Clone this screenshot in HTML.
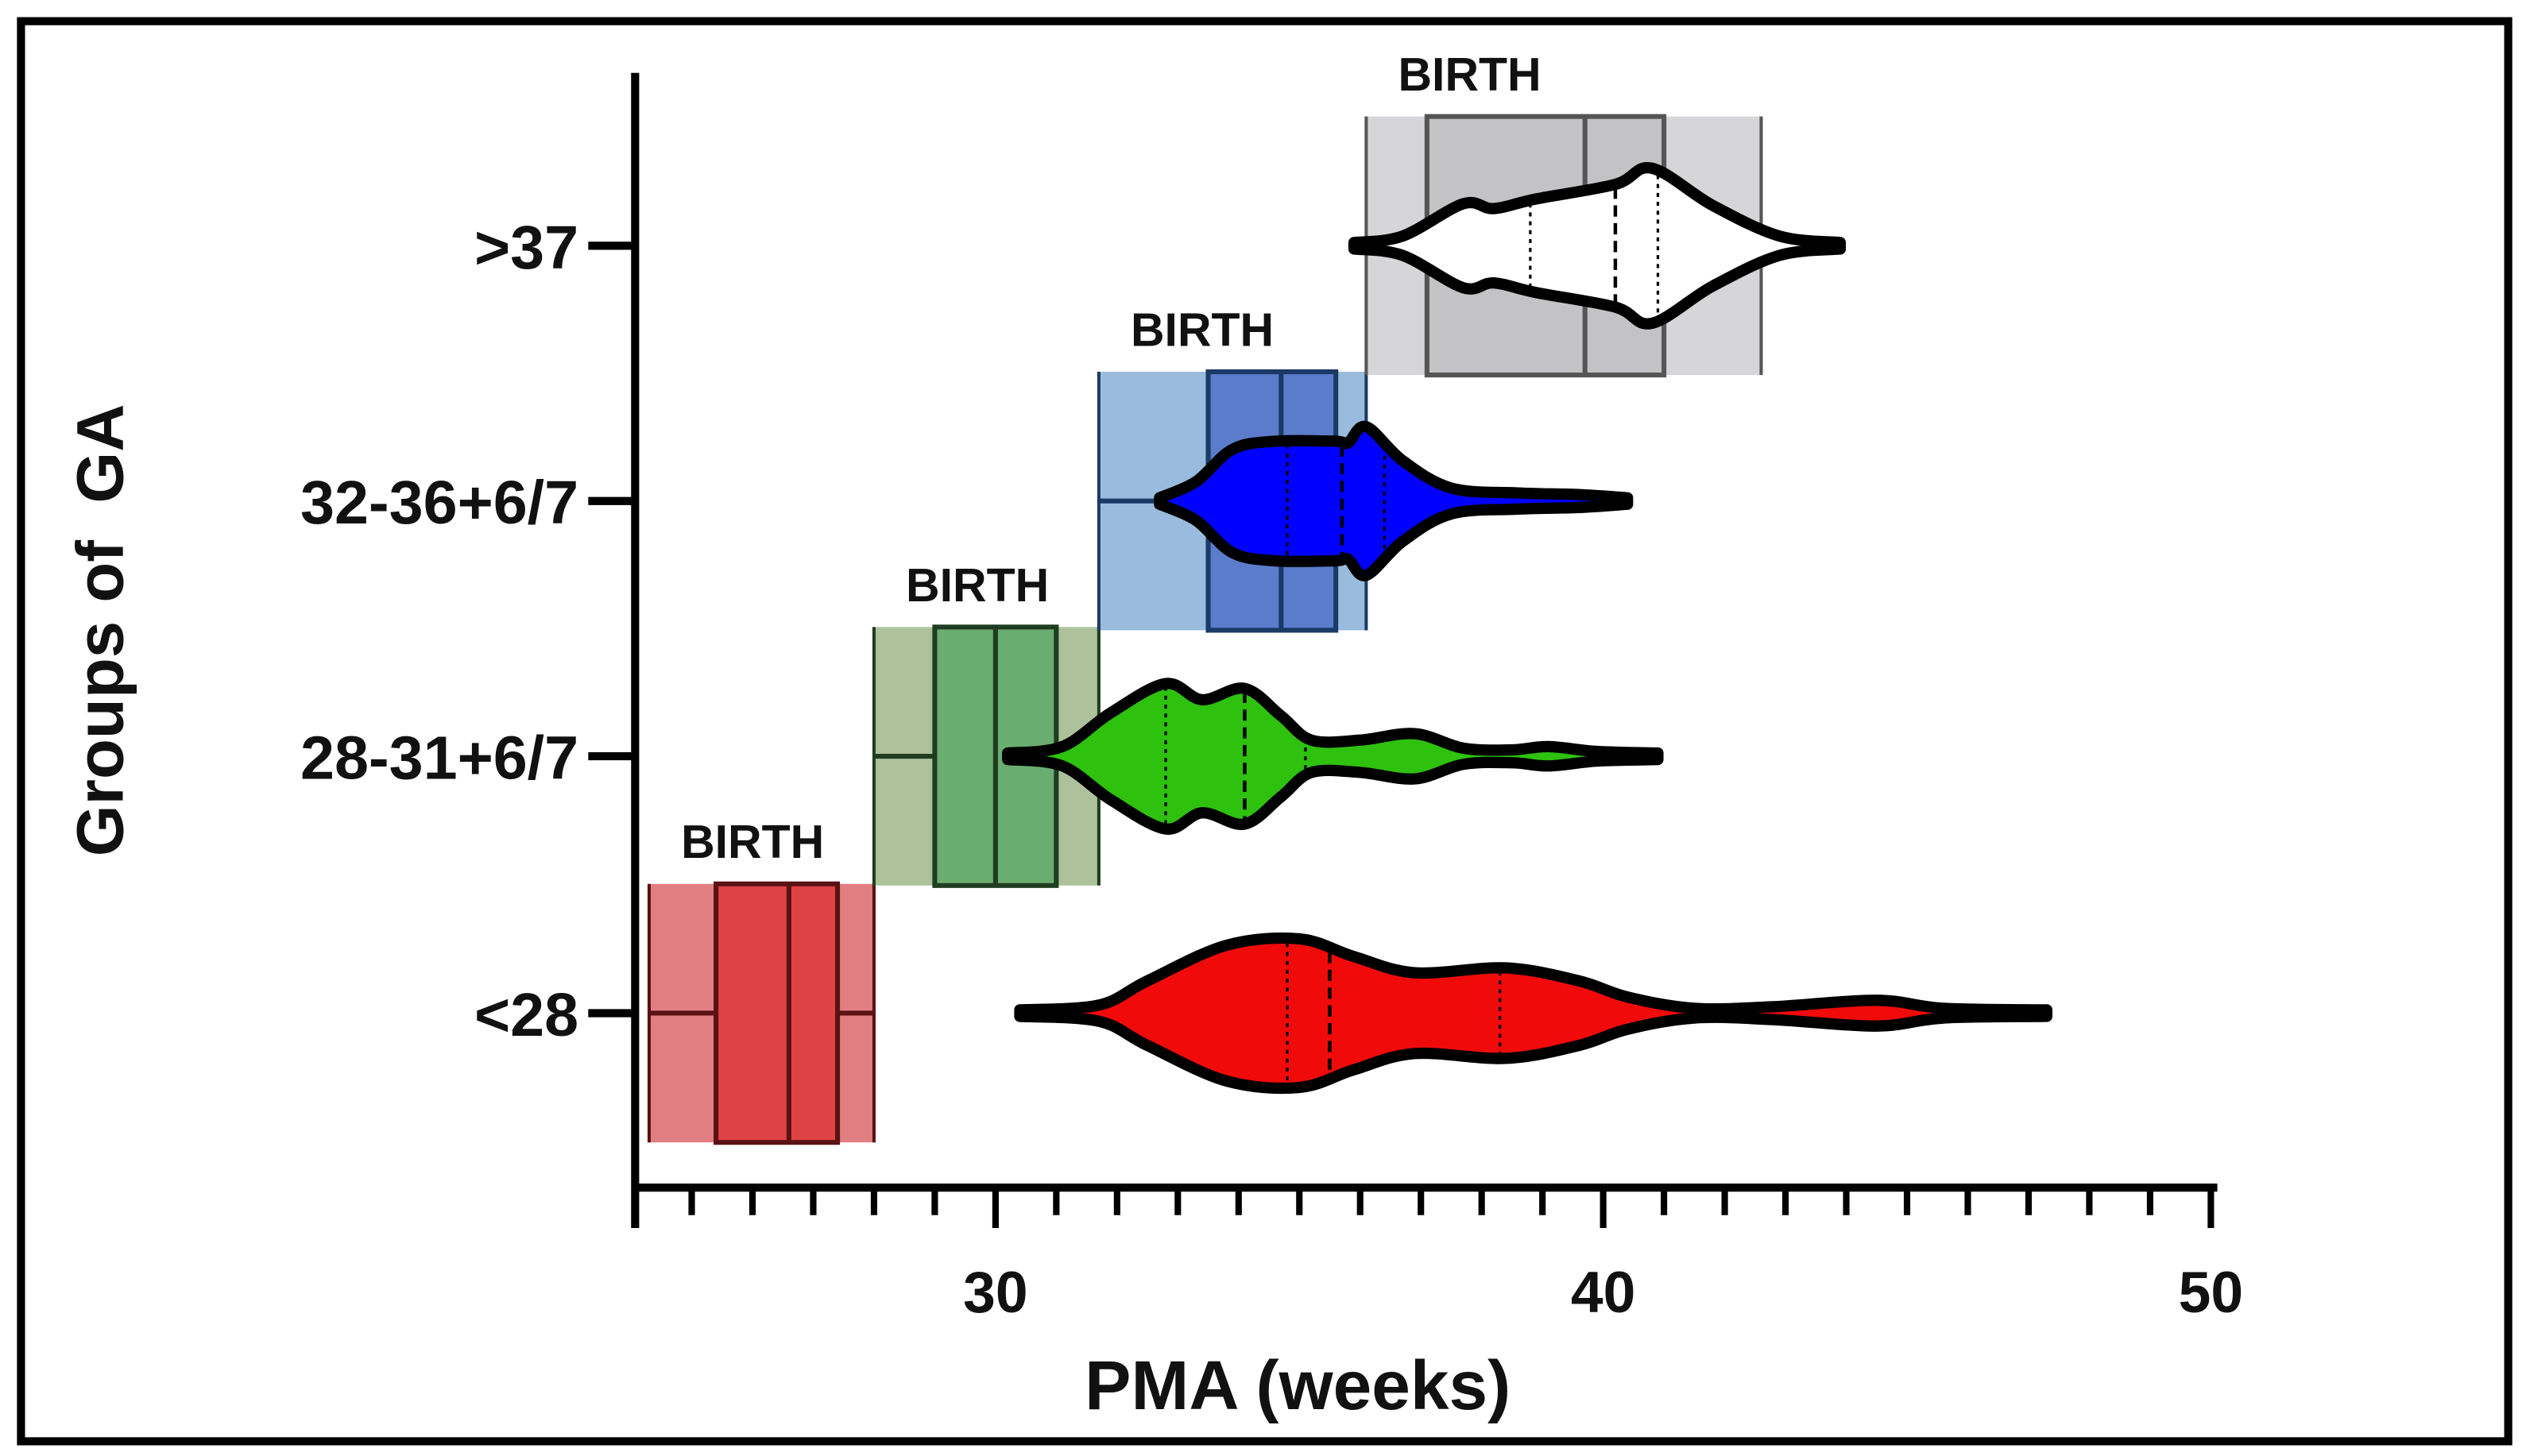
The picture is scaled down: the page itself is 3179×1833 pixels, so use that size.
<!DOCTYPE html>
<html><head><meta charset="utf-8"><style>html,body{margin:0;padding:0;background:#fff}svg{display:block}</style></head>
<body>
<svg id="chart" width="3179" height="1833" viewBox="0 0 1563 901" xmlns="http://www.w3.org/2000/svg" font-family="Liberation Sans, Arial, sans-serif">
<rect x="13" y="13" width="1539" height="879" fill="#fff" stroke="#000" stroke-width="5"/>
<g id="boxes"></g><g id="violins"></g><g id="axes"></g>
<text transform="translate(76,390) rotate(-90)" text-anchor="middle" font-weight="bold" font-size="41" fill="#111">Groups of&#160; GA</text>
<text x="803" y="872" text-anchor="middle" font-weight="bold" font-size="43" fill="#111">PMA (weeks)</text>
</svg>
<script>
const categories = ['<28','28-31+6/7','32-36+6/7','>37'];
const catY = [627,468,310,152];
// birth boxes: [min, q1, median, q3, max] in weeks
const birthBoxes = [[24.3,25.4,26.6,27.4,28.0],[28.0,29.0,30.0,31.0,31.7],[31.7,33.5,34.7,35.6,36.1],[36.1,37.1,39.7,41.0,42.6]];
// violin density profiles: weeks & half-widths
const vWeeks = [
 [30.4,31.7,32.5,33.8,35.0,35.9,36.9,38.4,39.6,40.4,41.5,42.8,44.5,45.6,47.3],
 [30.2,31.1,31.9,32.8,33.4,34.1,34.7,35.2,36.0,36.9,37.7,38.5,39.1,39.9,40.9],
 [32.7,33.3,33.9,34.6,35.6,35.8,36.1,36.7,37.5,38.6,39.6,40.4],
 [35.9,36.7,37.7,38.2,38.9,40.2,40.8,41.8,42.9,43.9]];
const vHalf = [
 [2,5,20,42,46,35,25,28,20,10,3,4,8,3,2],
 [2,6,27,45,35,42,25,10,10,14,5,4,6,3,2],
 [2,12,32,37,37,36,46,25,8,5,4,2],
 [2,6,26,23,29,38,48,25,6,2]];
const quartiles = [[34.8,35.5,38.3],[32.8,34.1,35.1],[34.8,35.7,36.4],[38.8,40.2,40.9]];
const xTicks = [30,40,50];
const boxOuter = ['#e07f82','#adc29b','#99bbdd','#d6d6d8'];
const boxInner = ['#df4245','#6aad70','#5b7ccb','#c3c3c5'];
const boxLine = ['#5a1214','#1f3d20','#1a3a66','#555'];
const violinFill = ['#f00a0a','#2ec10e','#0000ff','#ffffff'];

const NS='http://www.w3.org/2000/svg';
const x = w => 616 + (w-30)*37.6;
function el(tag, attrs, parent){const e=document.createElementNS(NS,tag);for(const k in attrs)e.setAttribute(k,attrs[k]);parent.appendChild(e);return e;}
const gB=document.getElementById('boxes'),gV=document.getElementById('violins'),gA=document.getElementById('axes');
const halfBand=80;
birthBoxes.forEach((b,i)=>{
  const cy=catY[i],top=cy-halfBand,bot=cy+halfBand;
  const g=el('g',{},gB);
  
  
  el('rect',{x:x(b[0]),y:top,width:x(b[4])-x(b[0]),height:bot-top,fill:boxOuter[i]},g);
  el('rect',{x:x(b[1]),y:top,width:x(b[3])-x(b[1]),height:bot-top,fill:boxInner[i],stroke:boxLine[i],'stroke-width':3},g);
  el('line',{x1:x(b[2]),x2:x(b[2]),y1:top,y2:bot,stroke:boxLine[i],'stroke-width':3},g);
  el('line',{x1:x(b[0]),x2:x(b[1]),y1:cy,y2:cy,stroke:boxLine[i],'stroke-width':3},g);
  el('line',{x1:x(b[3]),x2:x(b[4]),y1:cy,y2:cy,stroke:boxLine[i],'stroke-width':3},g);
  el('line',{x1:x(b[0]),x2:x(b[0]),y1:top,y2:bot,stroke:boxLine[i],'stroke-width':2},g);
  el('line',{x1:x(b[4]),x2:x(b[4]),y1:top,y2:bot,stroke:boxLine[i],'stroke-width':2},g);
  const t=el('text',{x:x(b[0])+64,y:top-16,'text-anchor':'middle','font-weight':'bold','font-size':29,fill:'#111'},gB);
  
  
  t.textContent='BIRTH';
});
function smoothPts(pts){let d='';for(let i=0;i<pts.length-1;i++){const p0=pts[Math.max(0,i-1)],p1=pts[i],p2=pts[i+1],p3=pts[Math.min(pts.length-1,i+2)];
 const c1=[p1[0]+(p2[0]-p0[0])/6,p1[1]+(p2[1]-p0[1])/6],c2=[p2[0]-(p3[0]-p1[0])/6,p2[1]-(p3[1]-p1[1])/6];
 d+=` C${c1[0]},${c1[1]} ${c2[0]},${c2[1]} ${p2[0]},${p2[1]}`;}return d;}
function interp(ws,hs,w){for(let i=0;i<ws.length-1;i++){if(w>=ws[i]&&w<=ws[i+1]){const t=(w-ws[i])/(ws[i+1]-ws[i]);return hs[i]+(hs[i+1]-hs[i])*t;}}return 0;}
vWeeks.forEach((ws,i)=>{
  const cy=catY[i],hs=vHalf[i];
  const top=ws.map((w,j)=>[x(w),cy-hs[j]]);
  const bot=ws.map((w,j)=>[x(w),cy+hs[j]]).reverse();
  const d='M'+top[0][0]+','+top[0][1]+smoothPts(top)+' L'+bot[0][0]+','+bot[0][1]+smoothPts(bot)+'Z';
  const g=el('g',{},gV);
  
  
  el('path',{d:d,fill:violinFill[i],stroke:'none'},g);
  quartiles[i].forEach((q,k)=>{const h=interp(ws,hs,q)-2;
    el('line',{x1:x(q),x2:x(q),y1:cy-h,y2:cy+h,stroke:'#000','stroke-width':k==1?2.2:1.6,'stroke-dasharray':k==1?'7,4':'2.5,3'},g);});
  el('path',{d:d,fill:'none',stroke:'#000','stroke-width':7,'stroke-linejoin':'round','stroke-linecap':'round'},g);
});
el('line',{x1:393,x2:393,y1:45,y2:760,stroke:'#000','stroke-width':5},gA);
el('line',{x1:391,x2:1372,y1:735,y2:735,stroke:'#000','stroke-width':5},gA);
for(let w=25;w<=50;w++){const maj=xTicks.includes(w);
  const t=el('line',{x1:x(w),x2:x(w),y1:735,y2:maj?760:752,stroke:'#000','stroke-width':4},gA);
  
  }
xTicks.forEach(v=>{const t=el('text',{x:x(v),y:812,'text-anchor':'middle','font-weight':'bold','font-size':36,fill:'#111'},gA);
  
  
  t.textContent=v;});
categories.forEach((c,i)=>{
  el('line',{x1:364,x2:393,y1:catY[i],y2:catY[i],stroke:'#000','stroke-width':5},gA);
  const t=el('text',{x:358,y:catY[i]+14,'text-anchor':'end','font-weight':'bold','font-size':38,fill:'#111'},gA);
  
  
  t.textContent=c;});
</script>
</body></html>
